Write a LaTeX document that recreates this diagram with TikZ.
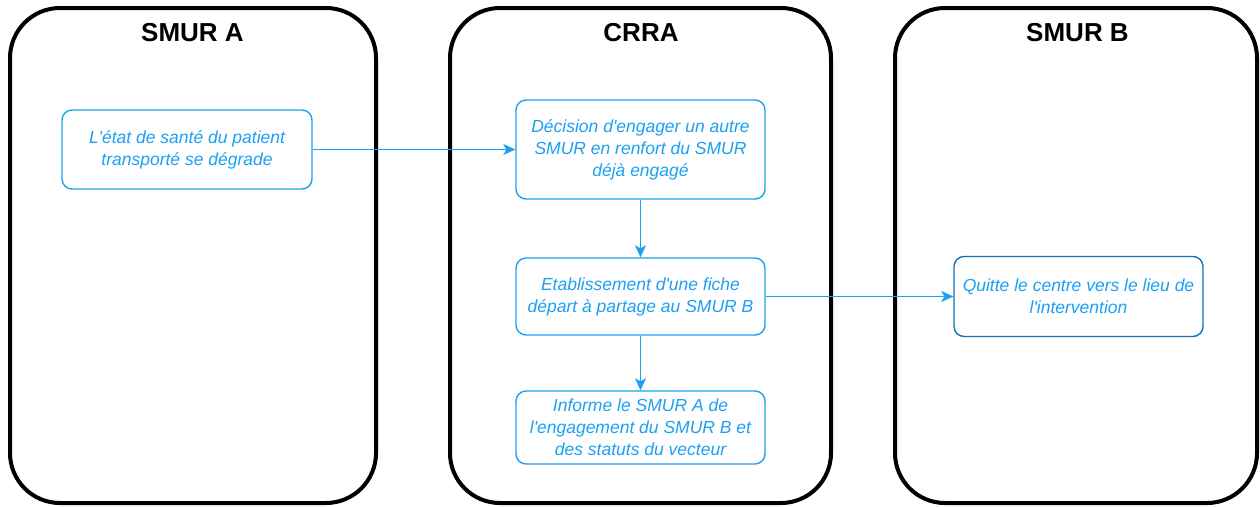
\documentclass[tikz,border=0pt]{standalone}
\usepackage{fontspec}
\setmainfont{Liberation Sans}
\usetikzlibrary{arrows.meta}
\definecolor{blu}{RGB}{27,160,242}
\definecolor{dblu}{RGB}{18,112,182}
\newcommand{\ap}{\textquotesingle}
\begin{document}
\begin{tikzpicture}[x=1pt,y=-1pt,
  lane/.style={draw=black, line width=4pt, rounded corners=50pt, inner sep=0pt},
  ttl/.style={font=\bfseries\fontsize{26}{30}\selectfont, inner sep=0pt},
  stepbox/.style={draw=blu, line width=1.4pt, rounded corners=10pt, text=blu,
    font=\itshape\fontsize{17.5}{22}\selectfont, align=center,
    minimum width=249pt, inner sep=0pt},
  arr/.style={draw=blu, line width=1.4pt, -{Stealth[length=12pt,width=11pt,inset=3pt]}}]
\useasboundingbox (0,0) rectangle (1260,506);
% lanes
\node[lane, minimum width=366pt, minimum height=495pt] (laneA) at (193,255.5) {};
\node[lane, minimum width=381pt, minimum height=495pt] (laneC) at (640.5,255.5) {};
\node[lane, minimum width=362pt, minimum height=495pt] (laneB) at (1076,255.5) {};
\node[ttl] (tA) at (192.5,33) {SMUR A};
\node[ttl] (tC) at (641,33) {CRRA};
\node[ttl] (tB) at (1077.5,33) {SMUR B};
% steps
\node[stepbox, minimum width=250pt, minimum height=79pt] (a1) at (187,149.5)
  {L\ap état de santé du patient\\transporté se dégrade};
\node[stepbox, minimum height=99pt] (c1) at (640.5,149.5)
  {Décision d\ap engager un autre\\SMUR en renfort du SMUR\\déjà engagé};
\node[stepbox, minimum height=77pt] (c2) at (640.5,296.5)
  {Etablissement d\ap une fiche\\départ à partage au SMUR B};
\node[stepbox, minimum height=73pt] (c3) at (640.5,427.5)
  {Informe le SMUR A de\\l\ap engagement du SMUR B et\\des statuts du vecteur};
\node[stepbox, draw=dblu, minimum height=80pt] (b1) at (1078.5,296.5)
  {Quitte le centre vers le lieu de\\l\ap intervention};
% connectors
\draw[arr] (a1.east) -- (c1.west);
\draw[arr] (c1.south) -- (c2.north);
\draw[arr] (c2.south) -- (c3.north);
\draw[arr] (c2.east) -- (b1.west);
\end{tikzpicture}
\end{document}
